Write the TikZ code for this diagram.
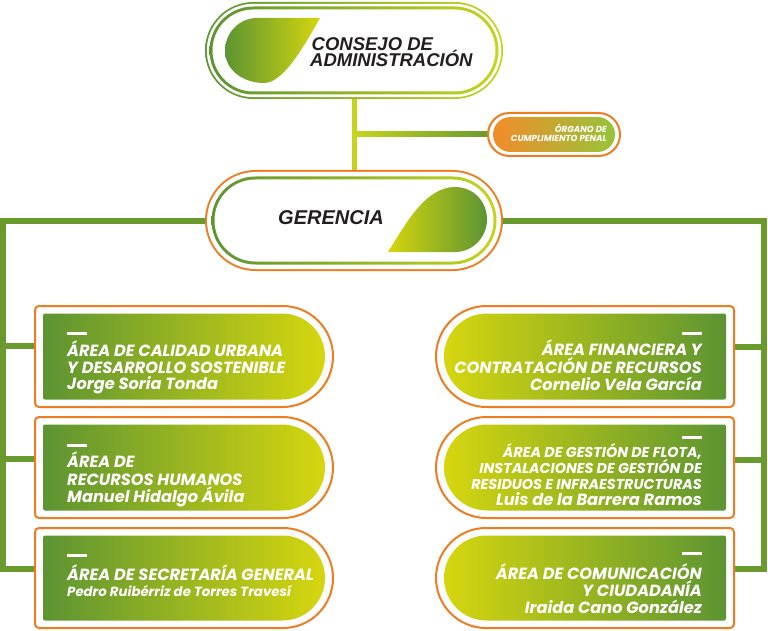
\documentclass[tikz,border=0pt]{standalone}
\usepackage{fontspec}
\usetikzlibrary{calc}
\newfontfamily\popf{Poppins}
\newfontfamily\arf{Liberation Sans}
\definecolor{dgreen}{RGB}{92,148,50}
\definecolor{yelc}{RGB}{214,214,14}
\definecolor{limec}{RGB}{198,212,28}
\definecolor{fgreen}{RGB}{106,154,46}
\definecolor{orc}{RGB}{238,125,34}
\definecolor{orlight}{RGB}{242,140,42}
\definecolor{txtc}{RGB}{35,31,32}
\definecolor{ogreen}{RGB}{150,196,58}
\newcommand\pillpath[5]{%
  \pgfmathsetmacro\pillrad{0.4999*(#5-#3)}%
  \path[#1, rounded corners=\pillrad pt] (#2,#3) rectangle (#4,#5);}
\newcommand\areaLeft[4]{%
  \pgfmathsetmacro\arOR{(#4-#2)/2}%
  \pgfmathsetmacro\arIR{(#4-#2)/2-7.5}%
  \pgfmathsetmacro\arxa{#1+8}\pgfmathsetmacro\arya{#2+7.5}%
  \pgfmathsetmacro\arxb{#3-8}\pgfmathsetmacro\aryb{#4-7.5}%
  \shade[left color=dgreen,right color=yelc] (\arxa+2,\arya) -- (\arxb-\arIR,\arya)
    arc[start angle=90,end angle=-90,radius=\arIR pt] -- (\arxa+2,\aryb)
    arc[start angle=-90,end angle=-180,radius=2pt] -- (\arxa,\arya+2)
    arc[start angle=180,end angle=90,radius=2pt] -- cycle;
  \draw[orc,line width=2pt] (#1+4,#2) -- (#3-\arOR,#2)
    arc[start angle=90,end angle=-90,radius=\arOR pt] -- (#1+4,#4)
    arc[start angle=-90,end angle=-180,radius=4pt] -- (#1,#2+4)
    arc[start angle=180,end angle=90,radius=4pt] -- cycle;}
\newcommand\areaRight[4]{%
  \pgfmathsetmacro\arOR{(#4-#2)/2}%
  \pgfmathsetmacro\arIR{(#4-#2)/2-7.5}%
  \pgfmathsetmacro\arxa{#1+8}\pgfmathsetmacro\arya{#2+7.5}%
  \pgfmathsetmacro\arxb{#3-8}\pgfmathsetmacro\aryb{#4-7.5}%
  \shade[left color=yelc,right color=dgreen] (\arxb-2,\arya)
    arc[start angle=90,end angle=0,radius=2pt] -- (\arxb,\aryb-2)
    arc[start angle=0,end angle=-90,radius=2pt] -- (\arxa+\arIR,\aryb)
    arc[start angle=-90,end angle=-270,radius=\arIR pt] -- cycle;
  \draw[orc,line width=2pt] (#3-4,#2)
    arc[start angle=90,end angle=0,radius=4pt] -- (#3,#4-4)
    arc[start angle=0,end angle=-90,radius=4pt] -- (#1+\arOR,#4)
    arc[start angle=-90,end angle=-270,radius=\arOR pt] -- cycle;}
\begin{document}
\begin{tikzpicture}[x=1pt,y=-1pt,
  anchorbox/.style={inner sep=0pt,outer sep=0pt,draw=none},
  frameline/.style={draw=fgreen,line width=6pt,line join=miter},
  atxt/.style={text=white,inner sep=0pt,text height=11.5pt,text depth=3pt,font=\popf\bfseries\itshape\fontsize{16.2}{17}\selectfont},
  stxt/.style={text=white,inner sep=0pt,text height=10.5pt,text depth=3pt,font=\popf\bfseries\itshape\fontsize{14.3}{15}\selectfont},
  ptxt/.style={text=white,inner sep=0pt,text height=10pt,text depth=3pt,font=\popf\bfseries\itshape\fontsize{13.3}{15}\selectfont},
  otxt/.style={text=white,inner sep=0pt,text height=6pt,text depth=1.5pt,font=\popf\bfseries\itshape\fontsize{8.7}{9}\selectfont},
  htxt/.style={text=txtc,inner sep=0pt,font=\arf\bfseries\itshape\fontsize{18.5}{16}\selectfont}]
\fill[white] (0,0) rectangle (768,631);
\useasboundingbox (0,0) rectangle (768,631);
% anchor nodes
\node[anchorbox,minimum width=298pt,minimum height=97pt] (cj) at (354,50.5) {};
\node[anchorbox,minimum width=298pt,minimum height=101pt] (ger) at (354,220.5) {};
\node[anchorbox,minimum width=132pt,minimum height=43pt] (og) at (554,134.5) {};
\coordinate (hj) at (354,134.5);
\coordinate (fl) at (3,569);
\coordinate (fr) at (764,569);
\coordinate (L1b) at (35,346);
\coordinate (L2b) at (35,459);
\coordinate (L3b) at (35,569);
\coordinate (R1b) at (734,347);
\coordinate (R2b) at (734,460);
\coordinate (R3b) at (734,569);
% connectors
\draw[draw=limec,line width=5pt] (cj.south) -- (ger.north);
\shade[left color=limec,right color=fgreen] ($(hj)+(0,-2.5)$) rectangle ($(og.west)+(0,2.5)$);
\draw[frameline] (ger.west) -| (fl) -- (L3b);
\draw[frameline] (fl |- L1b) -- (L1b);
\draw[frameline] (fl |- L2b) -- (L2b);
\draw[frameline] (ger.east) -| (fr) -- (R3b);
\draw[frameline] (fr |- R1b) -- (R1b);
\draw[frameline] (fr |- R2b) -- (R2b);
% top box
\pillpath{shade,left color=dgreen,right color=limec}{205}{2}{503}{99}
\pillpath{fill=white}{206.8}{3.8}{501.2}{97.2}
\pillpath{shade,left color=dgreen,right color=limec}{209.5}{6.5}{498.5}{94.5}
\pillpath{fill=white}{212.5}{9.5}{495.5}{91.5}
\shade[left color=dgreen,right color=yelc] (320,18) -- (257,18) .. controls (239,18) and (225,33) .. (225,51)
  .. controls (225,69) and (242,83) .. (264,83) .. controls (282,83) and (301,52) .. (320,18) -- cycle;
\node[htxt,anchor=base west] (cjt) at (310,51)
  {\begin{tabular}[t]{@{}l@{}}\smash{\hspace{1.5pt}CONSEJO DE}\\\smash{ADMINISTRACIÓN}\end{tabular}};
% gerencia
\pillpath{fill=orc}{205}{170}{503}{271}
\pillpath{fill=white}{207}{172}{501}{269}
\pillpath{shade,left color=dgreen,right color=limec}{211.5}{176.5}{496.5}{264.5}
\pillpath{fill=white}{214.5}{179.5}{493.5}{261.5}
\shade[left color=yelc,right color=dgreen] (388,252) -- (455,252) .. controls (473,252) and (487,237) .. (487,219.5)
  .. controls (487,201) and (473,187) .. (455,187) .. controls (425,187) and (405,225) .. (388,252) -- cycle;
\node[htxt,anchor=base west,font=\arf\bfseries\itshape\fontsize{20}{22}\selectfont] (gt) at (278,225) {GERENCIA};
% organo
\pillpath{shade,left color=orlight,right color=ogreen}{493}{117}{615}{152}
\draw[orc,line width=2pt,rounded corners=21.4pt] (488,113) rectangle (620,156);
\node[otxt,anchor=base east] (og1) at (607,133) {ÓRGANO DE};
\node[otxt,anchor=base east] (og2) at (607,141.5) {CUMPLIMIENTO PENAL};
% area boxes
\areaLeft{35}{306}{333}{407}
\areaLeft{35}{417}{333}{518}
\areaLeft{35}{528}{333}{628}
\areaRight{436}{306}{734}{407}
\areaRight{436}{417}{734}{518}
\areaRight{436}{528}{734}{628}
% left texts
\fill[white] (67,332) rectangle (87,334.5);
\node[atxt,anchor=base west] (l1a) at (67,356) {ÁREA DE CALIDAD URBANA};
\node[atxt,anchor=base west] (l1b) at (67,373) {Y DESARROLLO SOSTENIBLE};
\node[atxt,anchor=base west] (l1c) at (67,389) {Jorge Soria Tonda};
\fill[white] (67,444) rectangle (87,446.5);
\node[atxt,anchor=base west] (l2a) at (67,467) {ÁREA DE};
\node[atxt,anchor=base west] (l2b) at (67,485) {RECURSOS HUMANOS};
\node[atxt,anchor=base west] (l2c) at (67,502) {Manuel Hidalgo Ávila};
\fill[white] (67,554) rectangle (87,556.5);
\node[atxt,anchor=base west] (l3a) at (67,580) {ÁREA DE SECRETARÍA GENERAL};
\node[ptxt,anchor=base west] (l3b) at (67,596) {Pedro Ruibérriz de Torres Travesí};
% right texts
\fill[white] (682,332) rectangle (702,334.5);
\node[atxt,anchor=base east] (r1a) at (702,355) {ÁREA FINANCIERA Y};
\node[atxt,anchor=base east] (r1b) at (702,373) {CONTRATACIÓN DE RECURSOS};
\node[atxt,anchor=base east] (r1c) at (702,390) {Cornelio Vela García};
\fill[white] (682,436) rectangle (702,438.5);
\node[stxt,anchor=base east] (r2a) at (702,457) {ÁREA DE GESTIÓN DE FLOTA,};
\node[stxt,anchor=base east] (r2b) at (702,473) {INSTALACIONES DE GESTIÓN DE};
\node[stxt,anchor=base east] (r2c) at (702,489) {RESIDUOS E INFRAESTRUCTURAS};
\node[atxt,anchor=base east] (r2d) at (702,505) {Luis de la Barrera Ramos};
\fill[white] (682,552) rectangle (702,554.5);
\node[atxt,anchor=base east] (r3a) at (702,579) {ÁREA DE COMUNICACIÓN};
\node[atxt,anchor=base east] (r3b) at (702,596) {Y CIUDADANÍA};
\node[atxt,anchor=base east] (r3c) at (702,613) {Iraida Cano González};
\end{tikzpicture}
\end{document}
